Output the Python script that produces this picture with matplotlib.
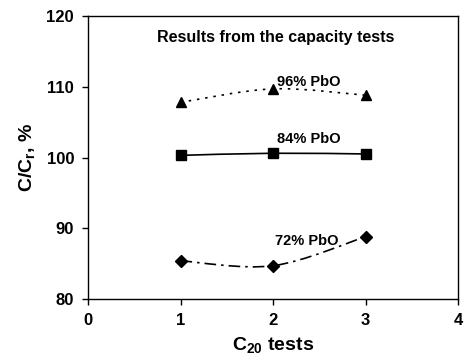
import numpy as np
import matplotlib
matplotlib.use("Agg")
import matplotlib.pyplot as plt
from matplotlib.path import Path
from matplotlib.patches import PathPatch

plt.rcParams['font.family'] = ['Liberation Sans', 'DejaVu Sans']
plt.rcParams['font.weight'] = 'bold'
plt.rcParams['mathtext.fontset'] = 'custom'
plt.rcParams['mathtext.rm'] = 'Liberation Sans:bold'
plt.rcParams['mathtext.it'] = 'Liberation Sans:bold'
plt.rcParams['mathtext.bf'] = 'Liberation Sans:bold'

tests = [1, 2, 3]
pbo96 = [107.8, 109.7, 108.8]
pbo84 = [100.3, 100.6, 100.5]
pbo72 = [85.4, 84.7, 88.8]


def smooth(ax, x, y, **kw):
    # Excel-like smoothed line through the points (cubic Bezier segments)
    x = np.asarray(x, float)
    y = np.asarray(y, float)
    verts = [(x[0], y[0])]
    codes = [Path.MOVETO]
    n = len(x)
    for i in range(n - 1):
        x0, y0 = (x[i - 1], y[i - 1]) if i > 0 else (x[i], y[i])
        x3, y3 = (x[i + 2], y[i + 2]) if i + 2 < n else (x[i + 1], y[i + 1])
        c1 = (x[i] + (x[i + 1] - x0) / 6, y[i] + (y[i + 1] - y0) / 6)
        c2 = (x[i + 1] - (x3 - x[i]) / 6, y[i + 1] - (y3 - y[i]) / 6)
        verts += [c1, c2, (x[i + 1], y[i + 1])]
        codes += [Path.CURVE4] * 3
    ax.add_patch(PathPatch(Path(verts, codes), fill=False, **kw))


fig = plt.figure(figsize=(4.65, 3.6), dpi=100)
ax = fig.add_axes([88 / 465, 1 - 299 / 360, 370 / 465, 283 / 360])

smooth(ax, tests, pbo96, color='black', lw=1.2, linestyle=(0, (1.5, 3.5)))
smooth(ax, tests, pbo84, color='black', lw=1.2)
smooth(ax, tests, pbo72, color='black', lw=1.2, linestyle=(0, (7, 3, 1.5, 3)))

ax.plot(tests, pbo96, linestyle='none', marker='^', ms=7, color='black')
ax.plot(tests, pbo84, linestyle='none', marker='s', ms=7, color='black')
ax.plot(tests, pbo72, linestyle='none', marker='D', ms=6, color='black')

ax.text(2.39, 110.7, '96% PbO', fontsize=10.5, fontweight='bold',
        ha='center', va='center')
ax.text(2.39, 102.6, '84% PbO', fontsize=10.5, fontweight='bold',
        ha='center', va='center')
ax.text(2.37, 88.2, '72% PbO', fontsize=10.5, fontweight='bold',
        ha='center', va='center')
ax.text(2.03, 117.0, 'Results from the capacity tests', fontsize=11.5,
        fontweight='bold', ha='center', va='center')

ax.set_xlim(0, 4)
ax.set_ylim(80, 120)
ax.set_xticks([0, 1, 2, 3, 4])
ax.set_yticks([80, 90, 100, 110, 120])
ax.tick_params(direction='out', length=4, width=1, labelsize=12, pad=6)
for lab in ax.get_xticklabels() + ax.get_yticklabels():
    lab.set_fontweight('bold')
for s in ax.spines.values():
    s.set_linewidth(1)

ax.set_xlabel('C$_{20}$ tests', fontsize=14, fontweight='bold', labelpad=5)
ax.set_ylabel('C/C$_\\mathregular{r}$, %', fontsize=14, fontweight='bold', labelpad=7)

fig.savefig('out.png', dpi=100)
